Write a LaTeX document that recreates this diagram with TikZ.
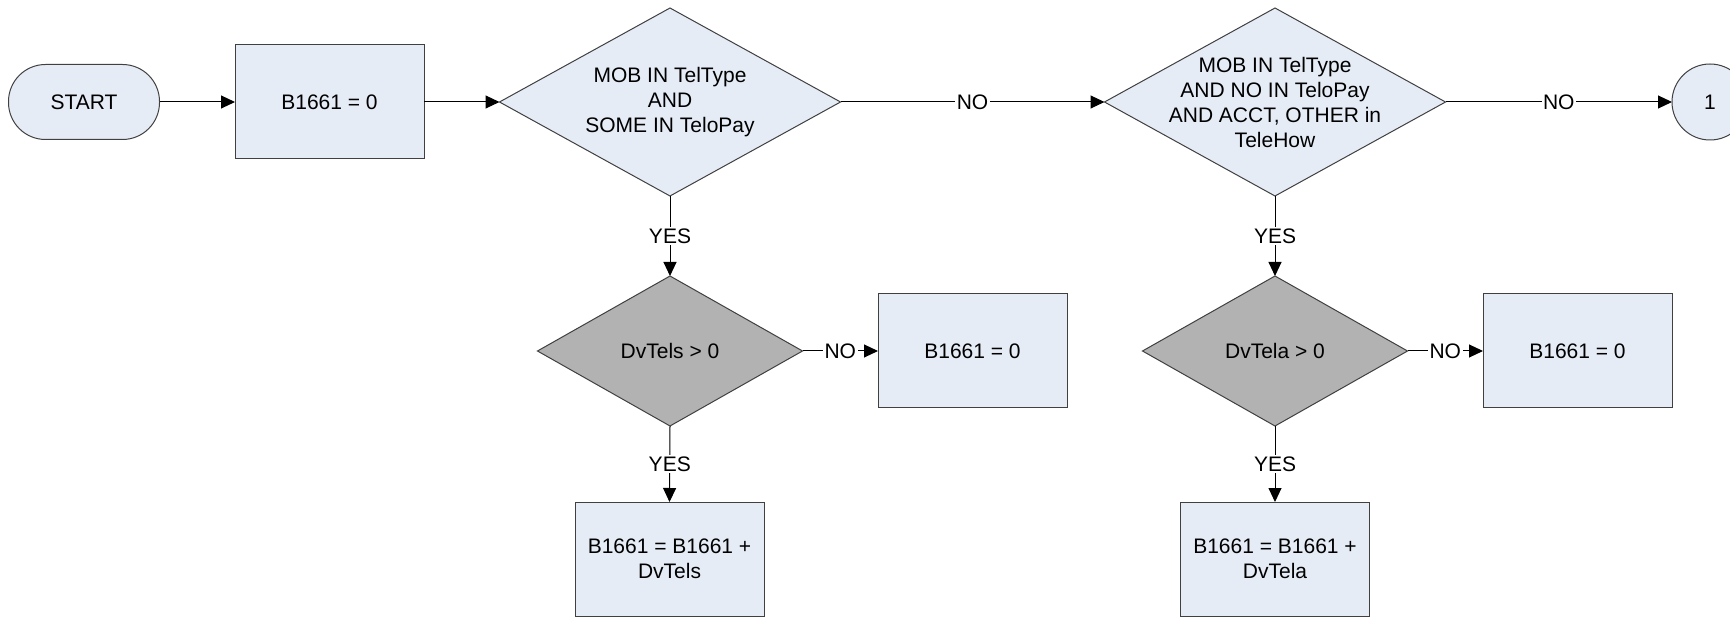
\documentclass[tikz,border=0pt]{standalone}
\usepackage{fontspec}
\setmainfont{Liberation Sans}
\usetikzlibrary{shapes.geometric,arrows.meta}
\definecolor{boxfill}{HTML}{E6ECF6}
\definecolor{grayfill}{HTML}{B2B2B2}
\definecolor{edge}{HTML}{404040}
\tikzset{
  base/.style={draw=edge, line width=1pt, outer sep=0pt, inner sep=0pt,
    font=\fontsize{21}{25}\selectfont, align=center},
  procbox/.style={base, rectangle, fill=boxfill, minimum width=189pt, minimum height=114pt},
  termbox/.style={base, rectangle, rounded corners=37pt, fill=boxfill, minimum width=151pt, minimum height=75pt},
  bigdia/.style={base, diamond, fill=boxfill, minimum width=341pt, minimum height=188pt},
  smalldia/.style={base, diamond, fill=grayfill, minimum width=265pt, minimum height=150pt},
  conn/.style={base, circle, fill=boxfill, minimum size=76pt},
  txt/.style={font=\fontsize{21}{25}\selectfont, align=center, inner sep=0pt},
  arr/.style={line width=1pt, draw=black, -{Triangle[length=14pt, width=13pt]}},
  lbl/.style={fill=white, inner sep=1.5pt, font=\fontsize{21}{25}\selectfont}
}
\begin{document}
\begin{tikzpicture}[x=1pt, y=-1pt]
\clip (0,0) rectangle (1730,617);
\fill[white] (0,0) rectangle (1730,617);

\node[termbox] (start) at (84,102) {START};
\node[procbox] (b0) at (329.5,102) {B1661 = 0};
\node[bigdia] (d1) at (670,102) {};
\node[txt] (d1t) at (d1.center) {MOB IN TelType\\AND\\SOME IN TeloPay};
\node[bigdia] (d2) at (1275,102) {};
\node[txt] (d2t) at (d2.center) {MOB IN TelType\\AND NO IN TeloPay\\AND ACCT, OTHER in\\TeleHow};
\node[conn] (c1) at (1710,102) {1};

\node[smalldia] (d3) at (670,351) {};
\node[txt] (d3t) at (d3.center) {DvTels > 0};
\node[procbox] (n1) at (972.5,351) {B1661 = 0};
\node[procbox] (p1) at (669.5,559) {B1661 = B1661 +\\DvTels};

\node[smalldia] (d4) at (1275,351) {};
\node[txt] (d4t) at (d4.center) {DvTela > 0};
\node[procbox] (n2) at (1577.5,351) {B1661 = 0};
\node[procbox] (p2) at (1275,559) {B1661 = B1661 +\\DvTela};

\draw[arr] (start) -- (b0);
\draw[arr] (b0) -- (d1.west);
\draw[arr] (d1.east) -- node[lbl] {NO} (d2.west);
\draw[arr] (d2.east) -- node[lbl] {NO} (c1.west);
\draw[arr] (d1.south) -- node[lbl] {YES} (d3.north);
\draw[arr] (d2.south) -- node[lbl] {YES} (d4.north);
\draw[arr] (d3.east) -- node[lbl] {NO} (n1.west);
\draw[arr] (d4.east) -- node[lbl] {NO} (n2.west);
\draw[arr] (d3.south) -- node[lbl] {YES} (p1.north);
\draw[arr] (d4.south) -- node[lbl] {YES} (p2.north);
\end{tikzpicture}
\end{document}
